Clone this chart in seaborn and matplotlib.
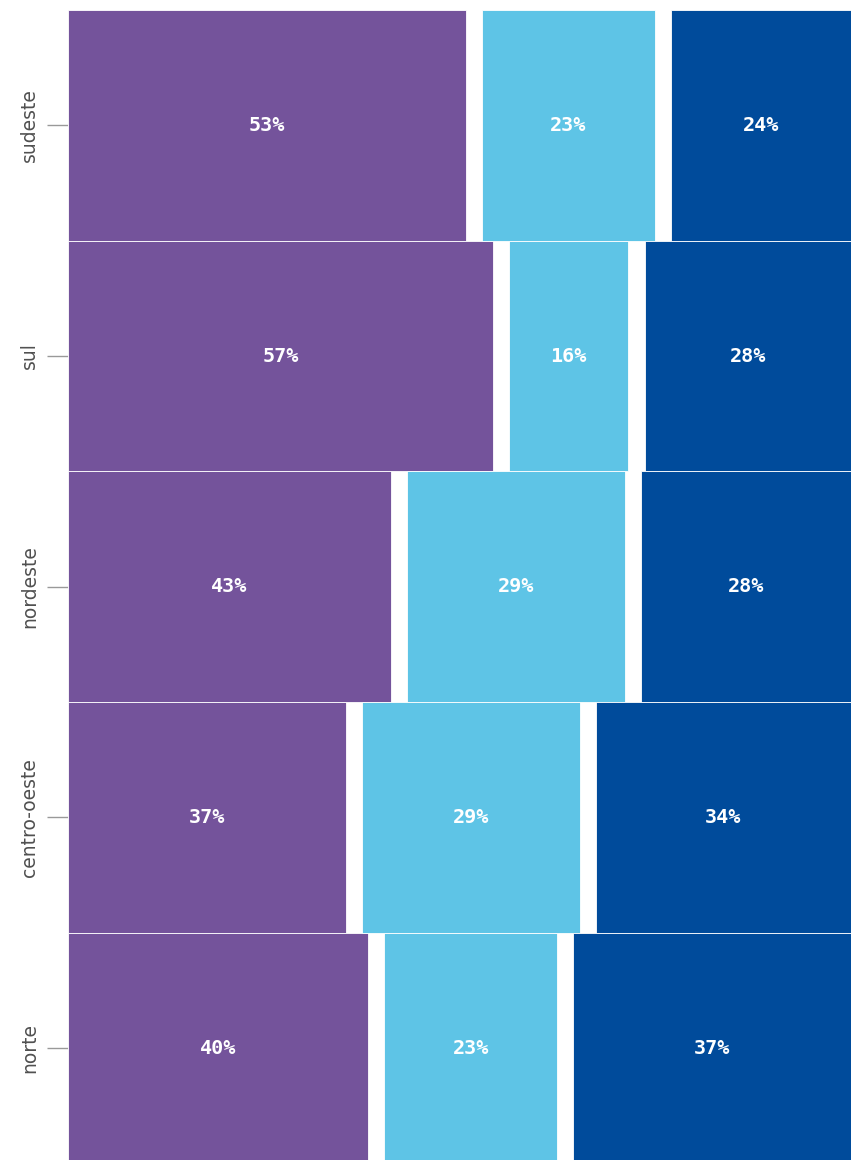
import numpy as np
import pandas as pd
import matplotlib
matplotlib.use("Agg")
import matplotlib.pyplot as plt
import seaborn as sns

regions = ["sudeste", "sul", "nordeste", "centro-oeste", "norte"]
seg_a = [53, 56.6, 43, 37, 40]
seg_b = [23, 15.9, 29, 29, 23]
seg_c = [24, 27.5, 28, 34, 37]

colors = ["#74539B", "#5EC4E6", "#004B9B"]
gap = 2.15  # white gap between segments, in data units

sns.set_theme(style="white", rc={"axes.spines.right": False, "axes.spines.top": False,
                                 "axes.spines.left": False, "axes.spines.bottom": False})

fig = plt.figure(figsize=(8.59, 11.6), dpi=100)
ax = fig.add_axes([68 / 859, 0, (851 - 68) / 859, 1150 / 1160])

df = pd.DataFrame({"region": regions, "a": seg_a, "b": seg_b, "c": seg_c})
y = np.arange(len(df))

left = np.zeros(len(df))
for i, col in enumerate(["a", "b", "c"]):
    vals = df[col].to_numpy()
    ax.barh(y, vals, left=left, height=1.0, color=colors[i],
            edgecolor="white", linewidth=0.6)
    for yy, l, v in zip(y, left, vals):
        ax.text(l + v / 2, yy, f"{v:.0f}%", ha="center", va="center",
                color="white", fontsize=14.5, fontweight="bold",
                family="DejaVu Sans Mono")
    left = left + vals + gap

ax.set_xlim(0, 100 + 2 * gap)
ax.set_ylim(4.485, -0.5)
ax.set_xticks([])
ax.set_yticks(y)
ax.set_yticklabels(regions, rotation=90, va="center", fontsize=13.5, color="#505050")
ax.tick_params(axis="y", length=15, width=1, color="#999999", left=True, pad=6)
ax.set_xlabel("")
ax.set_ylabel("")

fig.savefig("out.png", dpi=100)
